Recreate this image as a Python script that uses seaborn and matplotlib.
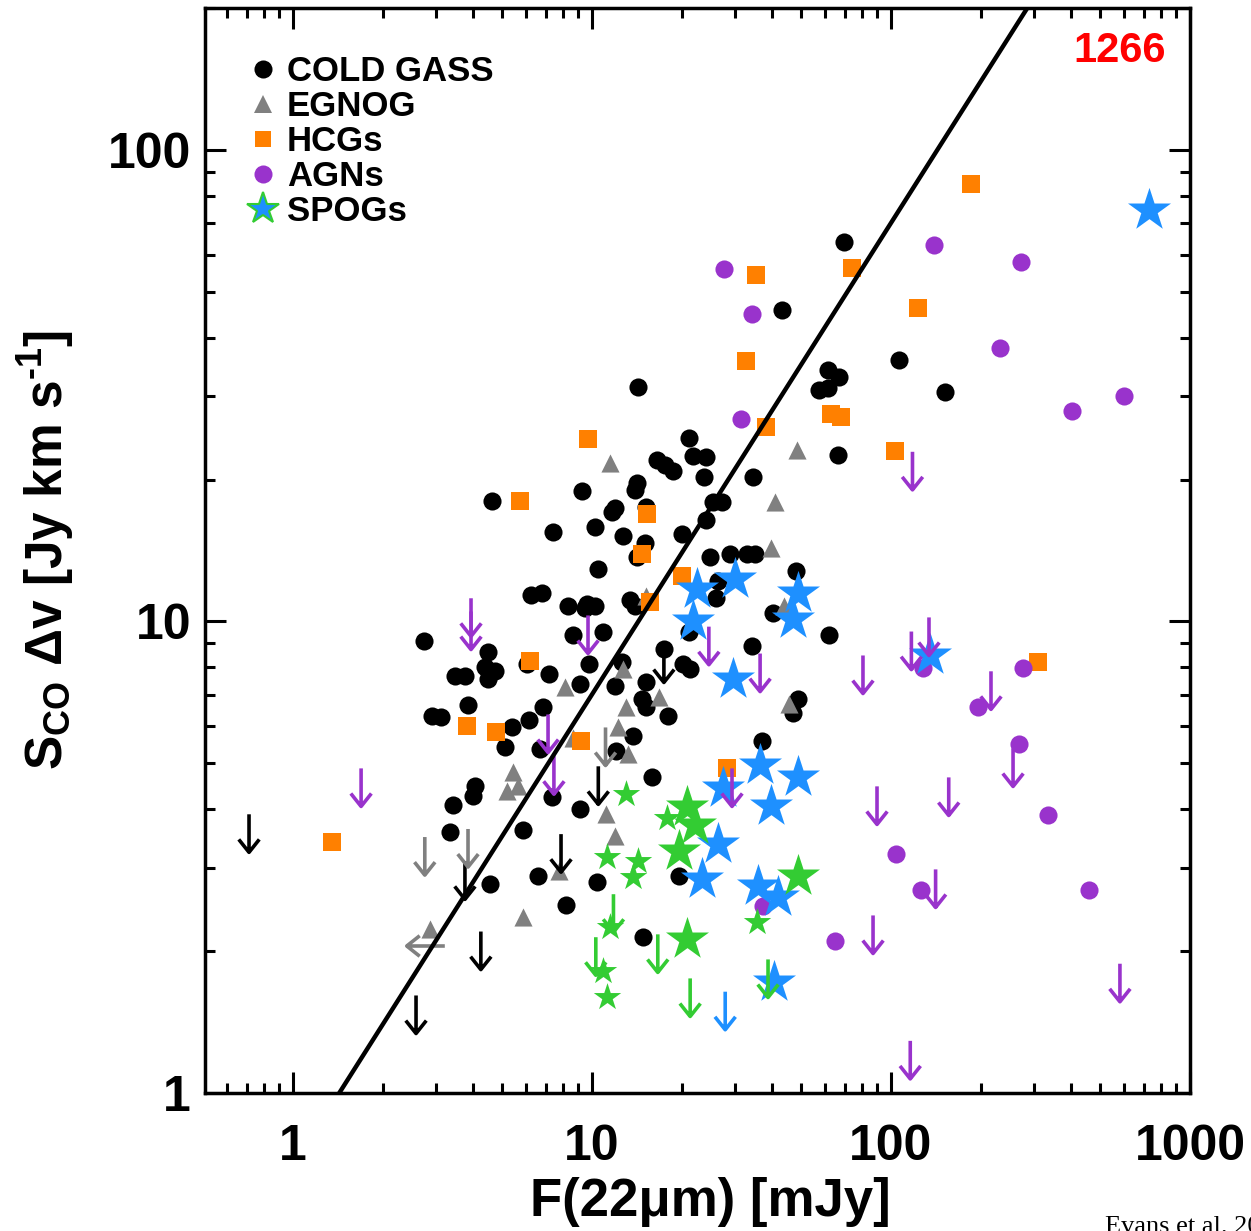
import numpy as np
import matplotlib
matplotlib.use("Agg")
import matplotlib.pyplot as plt
from matplotlib.path import Path
from matplotlib.lines import Line2D
from matplotlib.ticker import LogLocator, NullFormatter
import seaborn as sns

# ---------------- data ----------------
# COLD GASS detections
cg_x = [69.6, 43.2, 106, 152, 61.5, 67.0, 57.4, 61.5, 66.5, 21.1, 21.8, 24.1, 16.5, 17.5, 18.7, 23.7, 34.5,
        25.4, 27.2, 24.1, 20.0, 14.3, 14.1, 13.9, 9.26, 4.63, 11.9, 11.7, 15.2, 10.2, 7.41, 12.7, 15.0, 14.1,
        10.5, 6.25, 6.80, 8.31, 9.48, 10.2, 8.64, 10.9, 13.4, 13.9, 2.74, 17.4, 4.49, 4.39, 4.74, 4.49, 3.48,
        3.76, 6.06, 7.18, 9.12, 9.77, 12.6, 11.9, 15.2, 14.7, 15.2, 18.0, 20.2, 21.3, 3.85, 2.92, 3.13, 6.86,
        6.16, 5.40, 5.12, 6.70, 13.7, 12.0, 7.35, 9.12, 4.06, 4.00, 3.43, 15.9, 3.35, 5.88, 4.56, 6.60, 10.4,
        19.5, 8.19, 14.8, 24.8, 28.9, 33.0, 35.1, 26.4, 26.0, 40.3, 48.1, 21.1, 62.1, 34.3, 48.9, 47.0, 37.0, 9.62]
cg_y = [63.8, 45.8, 35.9, 30.7, 34.2, 33.0, 31.0, 31.2, 22.5, 24.5, 22.4, 22.3, 22.0, 21.5, 20.8, 20.2, 20.2,
        17.9, 17.9, 16.4, 15.3, 31.5, 19.7, 19.0, 18.9, 18.0, 17.4, 17.1, 17.5, 15.9, 15.5, 15.2, 14.7, 13.7,
        12.9, 11.4, 11.5, 10.8, 10.7, 10.8, 9.38, 9.52, 11.1, 10.8, 9.07, 8.73, 8.60, 7.99, 7.84, 7.54, 7.65,
        7.65, 8.11, 7.72, 7.36, 8.11, 8.19, 7.28, 7.43, 6.84, 6.58, 6.29, 8.11, 7.91, 6.64, 6.29, 6.27, 6.58,
        6.17, 5.96, 5.43, 5.36, 5.71, 5.30, 4.24, 4.01, 4.47, 4.26, 4.08, 4.67, 3.57, 3.62, 2.77, 2.88, 2.80,
        2.88, 2.51, 2.14, 13.7, 13.9, 13.9, 13.9, 12.2, 11.2, 10.4, 12.8, 9.48, 9.34, 8.85, 6.84, 6.41, 5.57, 10.9]
# COLD GASS upper limits
cg_lim_x = [0.713, 3.76, 4.25, 2.58, 7.88, 10.5, 17.4]
cg_lim_y = [3.90, 3.10, 2.20, 1.61, 3.54, 4.93, 8.94]

# EGNOG
eg_x = [11.5, 48.5, 40.9, 39.7, 15.2, 12.7, 8.12, 13.0, 12.2, 13.2, 16.8, 8.64, 5.44, 5.66, 5.20, 11.1, 11.9,
        7.76, 5.88, 2.87, 43.9, 45.6]
eg_y = [21.7, 23.1, 17.9, 14.3, 11.3, 7.91, 7.25, 6.58, 5.96, 5.23, 6.90, 5.65, 4.79, 4.47, 4.36, 3.90, 3.50,
        2.95, 2.36, 2.23, 10.8, 6.67]
eg_lim_x = [2.76, 3.85, 11.1]
eg_lim_y = [3.49, 3.63, 5.96]
eg_xlim_x = [3.22]
eg_xlim_y = [2.05]

# HCGs
hcg_x = [185, 35.4, 74.1, 123, 32.7, 38.2, 63.0, 68.0, 103, 9.70, 5.74, 15.3, 14.7, 20.0, 15.6, 6.20, 3.82,
         4.78, 9.19, 28.3, 310, 1.35]
hcg_y = [84.7, 54.3, 56.2, 46.3, 35.7, 25.8, 27.5, 27.2, 23.0, 24.4, 18.0, 16.9, 13.9, 12.5, 11.0, 8.23, 5.99,
         5.82, 5.57, 4.88, 8.19, 3.40]

# AGNs
agn_x = [27.6, 34.3, 31.5, 139, 272, 232, 403, 601, 128, 276, 195, 268, 335, 104, 126, 459, 37.3, 65.0]
agn_y = [56.0, 44.9, 26.9, 62.9, 57.9, 38.1, 27.9, 30.0, 7.95, 7.95, 6.58, 5.49, 3.88, 3.21, 2.69, 2.69, 2.49, 2.10]
agn_lim_x = [1.69, 3.94, 3.94, 7.13, 7.46, 9.70, 24.6, 36.5, 80.6, 29.4, 89.8, 118, 117, 134, 216, 256, 156,
             141, 87.1, 583, 116]
agn_lim_y = [4.88, 11.2, 10.5, 6.35, 5.18, 10.3, 9.75, 8.55, 8.47, 4.88, 4.47, 22.9, 9.52, 10.2, 7.84, 5.38,
             4.67, 2.98, 2.38, 1.88, 1.29]

# SPOGs
spog_blue_x = [22.4, 30.1, 21.8, 48.9, 47.0, 29.6, 36.5, 48.9, 27.4, 39.7, 26.4, 23.3, 35.9, 41.9, 40.6, 729, 135]
spog_blue_y = [11.7, 12.3, 10.0, 11.5, 10.1, 7.54, 4.95, 4.67, 4.43, 4.06, 3.37, 2.84, 2.75, 2.60, 1.72, 74.6, 8.51]
spog_blue_lim_x = [27.9]
spog_blue_lim_y = [1.64]
spog_green_big_x = [20.8, 22.1, 19.5, 48.9, 20.8]
spog_green_big_y = [4.04, 3.70, 3.26, 2.88, 2.12]
spog_green_small_x = [13.0, 17.8, 11.2, 14.3, 13.7, 11.5, 35.6, 10.9, 11.2]
spog_green_small_y = [4.30, 3.83, 3.16, 3.10, 2.87, 2.25, 2.31, 1.81, 1.60]
spog_green_lim_x = [11.8, 10.3, 16.6, 21.3, 38.8]
spog_green_lim_y = [2.64, 2.14, 2.17, 1.75, 1.92]

# relation line  S = fit_norm * F
fit_norm = 0.70
fit_x = np.array([0.5, 1000.0])
fit_y = fit_norm * fit_x

legend_labels = ["COLD GASS", "EGNOG", "HCGs", "AGNs", "SPOGs"]

# ---------------- style ----------------
BLACK = "black"
GRAY = "#808080"
ORANGE = "#ff8000"
PURPLE = "#9933cc"
BLUE = "#1e90ff"
GREEN = "#33cc33"

sns.set_style("ticks")
plt.rcParams["font.family"] = ["Liberation Sans", "DejaVu Sans"]
plt.rcParams["font.weight"] = "bold"
plt.rcParams["axes.labelweight"] = "bold"
plt.rcParams["text.color"] = "black"
plt.rcParams["axes.labelcolor"] = "black"
plt.rcParams["xtick.color"] = "black"
plt.rcParams["ytick.color"] = "black"
plt.rcParams["mathtext.fontset"] = "custom"
plt.rcParams["mathtext.rm"] = "Liberation Sans:bold"
plt.rcParams["mathtext.bf"] = "Liberation Sans:bold"
plt.rcParams["mathtext.it"] = "Liberation Sans:bold"
plt.rcParams["mathtext.default"] = "rm"

down_arrow = Path([(0, 0), (0, -1), (-0.27, -0.66), (0, -1), (0.27, -0.66)],
                  [Path.MOVETO, Path.LINETO, Path.MOVETO, Path.LINETO, Path.LINETO])
left_arrow = Path([(0, 0), (-1, 0), (-0.66, 0.27), (-1, 0), (-0.66, -0.27)],
                  [Path.MOVETO, Path.LINETO, Path.MOVETO, Path.LINETO, Path.LINETO])

fig = plt.figure(figsize=(12.51, 12.31), dpi=100)
ax = fig.add_axes([205 / 1251, (1231 - 1093) / 1231, 985 / 1251, 1085 / 1231])
ax.set_xscale("log")
ax.set_yscale("log")

S_PT = 170
sns.scatterplot(x=cg_x, y=cg_y, color=BLACK, marker="o", s=S_PT, linewidth=0, ax=ax, zorder=2)
sns.scatterplot(x=eg_x, y=eg_y, color=GRAY, marker="^", s=S_PT, linewidth=0, ax=ax, zorder=2.1)
sns.scatterplot(x=hcg_x, y=hcg_y, color=ORANGE, marker="s", s=S_PT, linewidth=0, ax=ax, zorder=2.2)
sns.scatterplot(x=agn_x, y=agn_y, color=PURPLE, marker="o", s=S_PT, linewidth=0, ax=ax, zorder=2.3)
sns.scatterplot(x=spog_blue_x, y=spog_blue_y, color=BLUE, marker="*", s=1060, linewidth=0, ax=ax, zorder=2.4)
sns.scatterplot(x=spog_green_big_x, y=spog_green_big_y, color=GREEN, marker="*", s=1060, linewidth=0, ax=ax, zorder=2.5)
sns.scatterplot(x=spog_green_small_x, y=spog_green_small_y, color=GREEN, marker="*", s=430, linewidth=0, ax=ax, zorder=2.5)

ARROW_S = 3000
ARROW_LW = 2.6
for lx, ly, col in [(cg_lim_x, cg_lim_y, BLACK), (eg_lim_x, eg_lim_y, GRAY), (agn_lim_x, agn_lim_y, PURPLE),
                    (spog_green_lim_x, spog_green_lim_y, GREEN), (spog_blue_lim_x, spog_blue_lim_y, BLUE)]:
    ax.scatter(lx, ly, marker=down_arrow, s=ARROW_S, facecolors="none", edgecolors=col,
               linewidths=ARROW_LW, zorder=4)
ax.scatter(eg_xlim_x, eg_xlim_y, marker=left_arrow, s=ARROW_S, facecolors="none", edgecolors=GRAY,
           linewidths=ARROW_LW, zorder=4)

sns.lineplot(x=fit_x, y=fit_y, color="black", linewidth=3.2, ax=ax, estimator=None, sort=False, zorder=5)

ax.set_xlim(0.508, 1000)
ax.set_ylim(1, 200)
ax.set_xticks([1, 10, 100, 1000])
ax.set_xticklabels(["1", "10", "100", "1000"])
ax.set_yticks([1, 10, 100])
ax.set_yticklabels(["1", "10", "100"])
for axis in (ax.xaxis, ax.yaxis):
    axis.set_minor_locator(LogLocator(base=10, subs=np.arange(2, 10), numticks=20))
    axis.set_minor_formatter(NullFormatter())
ax.tick_params(which="both", direction="in", top=True, right=True, width=2.2, color="black")
ax.tick_params(which="major", length=15)
ax.tick_params(which="minor", length=7.5)
ax.tick_params(axis="x", which="major", labelsize=36, pad=22, labelcolor="black")
ax.tick_params(axis="y", which="major", labelsize=36, pad=10, labelcolor="black")
for sp in ax.spines.values():
    sp.set_linewidth(2.5)
    sp.set_color("black")

ax.set_xlabel("F(22μm) [mJy]", fontsize=38, fontweight="bold", color="black")
ax.xaxis.set_label_coords(0.513, -0.077)
ax.set_ylabel(r"S$_{\rm CO}$ Δv [Jy km s$^{\text{-1}}$]", fontsize=37, fontweight="bold", color="black",
              labelpad=22)

ax.text(0.976, 0.960, "1266", transform=ax.transAxes, color="red", fontsize=30, fontweight="bold",
        ha="right", va="center")

handles = [
    Line2D([], [], ls="", marker="o", color=BLACK, ms=13, mew=0),
    Line2D([], [], ls="", marker="^", color=GRAY, ms=13, mew=0),
    Line2D([], [], ls="", marker="s", color=ORANGE, ms=12, mew=0),
    Line2D([], [], ls="", marker="o", color=PURPLE, ms=13, mew=0),
    Line2D([], [], ls="", marker="*", mfc=BLUE, mec=GREEN, ms=24, mew=1.5),
]
ax.legend(handles, legend_labels, loc="upper left", bbox_to_anchor=(0.041, 0.957), frameon=False,
          prop={"size": 25, "weight": "bold"}, handlelength=1.0, handletextpad=0.2, labelspacing=0.06,
          borderpad=0, borderaxespad=0)

fig.text(1105 / 1251, 1 - 1216 / 1231, "Evans et al. 2022", fontsize=19, family="Liberation Serif",
         fontweight="normal", va="top", ha="left", color="black")

fig.savefig("out.png", dpi=100)
